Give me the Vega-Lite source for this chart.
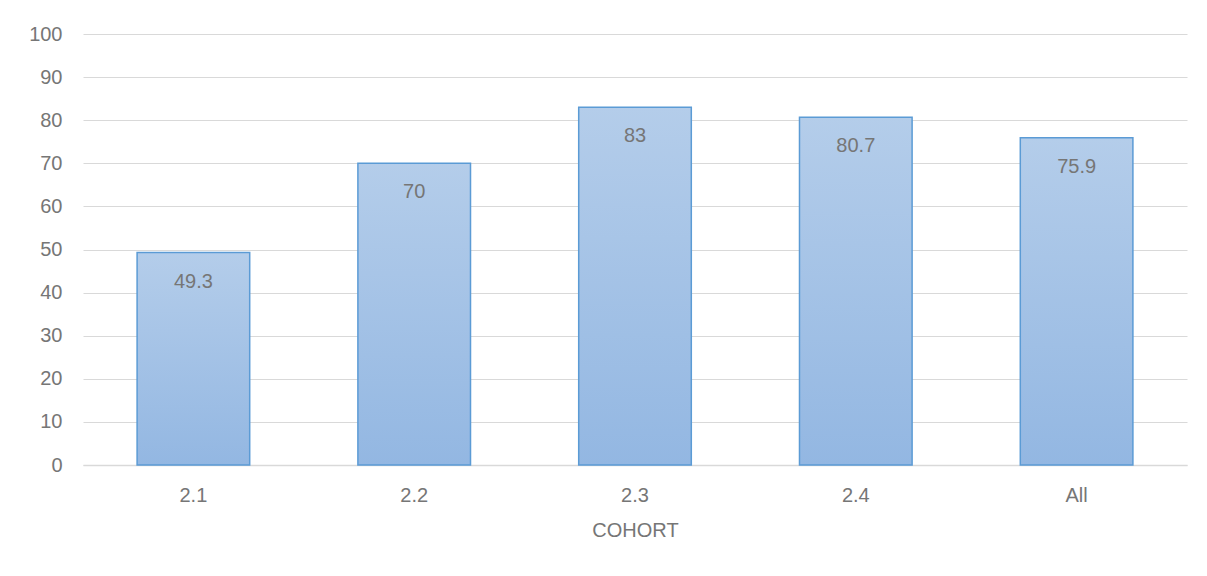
{
  "$schema": "https://vega.github.io/schema/vega-lite/v6.json",
  "width": 1104,
  "height": 431,
  "autosize": {"type": "none"},
  "padding": {"left": 83, "top": 34, "right": 20, "bottom": 111},
  "background": "white",
  "config": {
    "view": {"stroke": null},
    "font": "Liberation Sans",
    "axis": {"labelFont": "Liberation Sans", "titleFont": "Liberation Sans"}
  },
  "data": {
    "values": [
      {"cohort": "2.1", "value": 49.3},
      {"cohort": "2.2", "value": 70},
      {"cohort": "2.3", "value": 83},
      {"cohort": "2.4", "value": 80.7},
      {"cohort": "All", "value": 75.9}
    ]
  },
  "encoding": {
    "x": {
      "field": "cohort",
      "type": "nominal",
      "sort": null,
      "title": "COHORT",
      "scale": {"paddingInner": 0.49, "paddingOuter": 0.245},
      "axis": {
        "labelAngle": 0,
        "labelFontSize": 20,
        "labelColor": "#767676",
        "labelPadding": 20,
        "ticks": false,
        "domainColor": "#d9d9d9",
        "domainWidth": 1.5,
        "titleFontSize": 20,
        "titleFontWeight": "normal",
        "titleColor": "#767676",
        "titlePadding": 15
      }
    },
    "y": {
      "field": "value",
      "type": "quantitative",
      "title": null,
      "scale": {"domain": [0, 100]},
      "axis": {
        "values": [0, 10, 20, 30, 40, 50, 60, 70, 80, 90, 100],
        "labelFontSize": 20,
        "labelColor": "#767676",
        "labelPadding": 21,
        "ticks": false,
        "domain": false,
        "gridColor": "#d9d9d9",
        "gridWidth": 1.2
      }
    }
  },
  "layer": [
    {
      "mark": {
        "type": "bar",
        "stroke": "#5b9bd5",
        "strokeWidth": 1.5,
        "fill": {
          "gradient": "linear",
          "x1": 0, "y1": 0, "x2": 0, "y2": 1,
          "stops": [
            {"offset": 0, "color": "#b4cdea"},
            {"offset": 1, "color": "#93b7e2"}
          ]
        }
      }
    },
    {
      "mark": {
        "type": "text",
        "baseline": "middle",
        "dy": 29,
        "fontSize": 20,
        "color": "#767676"
      },
      "encoding": {"text": {"field": "value", "type": "quantitative"}}
    }
  ]
}
